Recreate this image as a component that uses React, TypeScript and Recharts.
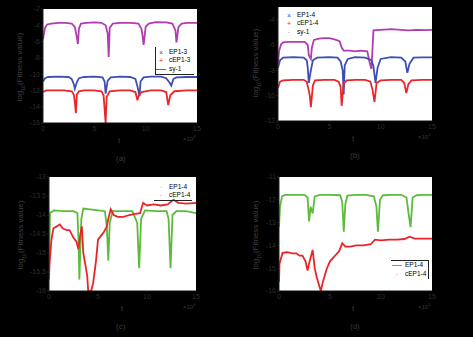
import React from 'react'
import { LineChart, Line, XAxis, YAxis, CartesianGrid } from 'recharts'

type Pt = [number, number]

// (a)
const A_SY1: Pt[] = [[0,-5.7],[0.2,-4.3],[0.4,-3.9],[0.8,-3.8],[1.5,-3.7],[2.2,-3.7],[2.8,-3.8],[3.1,-4.2],[3.3,-5.5],[3.4,-6.3],[3.5,-4.4],[3.7,-3.8],[4.2,-3.7],[5,-3.65],[5.7,-3.7],[6.1,-4.0],[6.3,-5.0],[6.4,-7.9],[6.5,-4.3],[6.8,-3.8],[7.5,-3.7],[8.5,-3.7],[9.3,-3.8],[9.6,-4.5],[9.7,-5.3],[9.8,-6.4],[10.0,-4.2],[10.3,-3.8],[11,-3.6],[12,-3.65],[12.6,-3.8],[12.9,-4.6],[13.0,-6.1],[13.2,-4.2],[13.5,-3.8],[14,-3.7],[15,-3.7]]
const A_EP: Pt[] = [[0,-10.9],[0.2,-10.5],[0.5,-10.35],[1.5,-10.3],[2.5,-10.35],[2.8,-10.6],[3.0,-11.2],[3.1,-11.8],[3.3,-11.0],[3.5,-10.5],[4,-10.35],[5,-10.3],[5.8,-10.4],[6.0,-10.9],[6.1,-12.4],[6.3,-10.8],[6.6,-10.4],[7.5,-10.3],[8.5,-10.35],[9.0,-10.6],[9.2,-11.5],[9.4,-12.7],[9.5,-10.9],[9.8,-10.4],[10.5,-10.3],[11.5,-10.3],[12.0,-10.5],[12.3,-11.0],[12.5,-11.4],[12.7,-10.6],[13,-10.4],[14,-10.35],[15,-10.35]]
const A_CEP: Pt[] = [[0,-12.2],[0.3,-12.0],[1,-12.0],[2,-12.0],[2.8,-12.1],[3.0,-12.5],[3.1,-13.4],[3.2,-14.8],[3.3,-12.5],[3.5,-12.1],[4,-12.0],[5,-12.0],[5.7,-12.1],[5.9,-12.6],[6.1,-16],[6.2,-12.8],[6.5,-12.1],[7.5,-12.0],[8.5,-12.0],[9.0,-12.2],[9.2,-13.2],[9.3,-12.7],[9.6,-12.2],[10.5,-12.0],[11.5,-12.0],[12.0,-12.2],[12.2,-13.8],[12.4,-12.6],[12.8,-12.1],[14,-12.0],[15,-12.0]]

// (b)
const B_SY1: Pt[] = [[0,-7.4],[0.1,-6.5],[0.3,-5.95],[0.5,-5.8],[1,-5.75],[1.5,-5.75],[2,-5.75],[2.6,-5.75],[2.9,-6.0],[3.0,-6.8],[3.2,-7.1],[3.3,-6.2],[3.5,-5.6],[4,-5.5],[4.5,-5.45],[5,-5.45],[5.5,-5.55],[6.0,-5.7],[6.2,-6.2],[6.4,-6.45],[7,-6.45],[7.5,-6.5],[8,-6.45],[8.7,-6.5],[8.9,-7.3],[9.1,-7.9],[9.3,-4.85],[10,-4.8],[11,-4.75],[12,-4.8],[12.7,-4.85],[13.5,-4.8],[14.3,-4.82],[15,-4.8]]
const B_EP: Pt[] = [[0,-7.8],[0.2,-7.2],[0.5,-7.0],[1.5,-6.95],[2.5,-7.0],[2.8,-7.2],[2.9,-7.8],[3.0,-9.0],[3.2,-8.0],[3.4,-7.2],[3.8,-7.0],[5,-6.95],[5.8,-7.0],[6.1,-7.3],[6.3,-8.0],[6.4,-9.9],[6.5,-7.6],[6.8,-7.1],[7.5,-6.95],[8.5,-7.0],[9.1,-7.2],[9.3,-7.7],[9.5,-9.0],[9.7,-7.8],[10,-7.1],[11,-6.95],[12,-7.0],[12.4,-7.3],[12.6,-8.2],[12.8,-7.5],[13.2,-7.0],[14,-6.97],[15,-6.97]]
const B_CEP: Pt[] = [[0,-9.4],[0.2,-8.9],[0.5,-8.8],[1.5,-8.75],[2.5,-8.75],[2.8,-8.9],[3.0,-9.6],[3.1,-10.0],[3.2,-10.9],[3.4,-9.2],[3.6,-8.8],[4.5,-8.75],[5.5,-8.75],[5.9,-8.9],[6.1,-9.3],[6.2,-10.8],[6.4,-9.0],[6.7,-8.8],[7.5,-8.75],[8.5,-8.75],[9.0,-8.9],[9.2,-9.5],[9.4,-10.5],[9.6,-9.0],[10,-8.8],[11,-8.75],[12,-8.75],[12.3,-9.0],[12.5,-9.8],[12.7,-9.1],[13,-8.8],[14,-8.75],[15,-8.75]]

// (c)
const C_EP: Pt[] = [[0,-15.5],[0.1,-13.95],[0.5,-13.88],[1.5,-13.9],[2.5,-13.9],[2.9,-13.95],[3.0,-14.6],[3.1,-15.7],[3.2,-14.9],[3.3,-14.1],[3.5,-13.83],[4.2,-13.85],[5,-13.88],[5.7,-13.9],[5.9,-14.3],[6.05,-15.2],[6.2,-14.2],[6.5,-13.9],[7.5,-13.9],[8.5,-13.9],[9.0,-14.2],[9.2,-15.4],[9.4,-14.1],[9.8,-13.88],[11,-13.9],[12,-13.9],[12.2,-14.1],[12.4,-15.4],[12.6,-14.0],[13,-13.9],[14,-13.9],[15,-13.95]]
const C_CEP: Pt[] = [[0,-15.7],[0.05,-15.3],[0.25,-14.65],[0.45,-14.35],[0.8,-14.3],[1.1,-14.25],[1.4,-14.35],[1.8,-14.4],[2.1,-14.4],[2.5,-14.6],[2.8,-14.7],[3.0,-14.9],[3.2,-14.5],[3.35,-14.3],[3.5,-15.0],[3.7,-15.3],[3.9,-15.6],[4.0,-16],[4.3,-16],[4.5,-15.8],[4.8,-15.2],[5.0,-14.65],[5.3,-14.55],[5.6,-14.45],[5.9,-14.3],[6.05,-14.1],[6.3,-13.85],[6.6,-14.0],[7,-14.05],[7.6,-14.05],[8.2,-14.0],[8.8,-13.97],[9.3,-13.95],[9.6,-13.68],[10,-13.75],[10.7,-13.72],[11.4,-13.75],[12.1,-13.72],[12.7,-13.6],[13.2,-13.68],[14,-13.7],[15,-13.68]]

// (d)
const D_EP: Pt[] = [[0,-13.2],[0.1,-12.3],[0.3,-11.85],[0.6,-11.78],[1.5,-11.78],[2.5,-11.78],[2.8,-11.9],[2.95,-12.95],[3.1,-12.3],[3.3,-12.6],[3.5,-11.85],[4,-11.78],[5,-11.78],[6.0,-11.8],[6.2,-12.1],[6.35,-13.4],[6.5,-12.2],[6.7,-11.82],[7.5,-11.78],[8.5,-11.78],[9.3,-11.85],[9.55,-12.3],[9.7,-13.4],[9.9,-12.0],[10.2,-11.8],[11,-11.78],[12,-11.78],[12.5,-11.9],[12.7,-12.6],[12.9,-13.2],[13.1,-11.9],[13.5,-11.8],[14,-11.78],[15,-11.78]]
const D_CEP: Pt[] = [[0,-15.6],[0.05,-14.8],[0.35,-14.33],[0.8,-14.3],[1.3,-14.35],[1.7,-14.35],[2.0,-14.45],[2.3,-14.45],[2.6,-14.7],[2.8,-15.1],[3.0,-14.7],[3.3,-14.2],[3.5,-15.0],[3.7,-15.4],[3.9,-15.7],[4.1,-16],[4.3,-15.6],[4.5,-15.3],[4.7,-15.0],[5.0,-14.7],[5.3,-14.55],[5.6,-14.4],[5.9,-14.25],[6.2,-13.9],[6.5,-14.05],[7,-14.05],[7.6,-14.0],[8.3,-14.0],[9.0,-13.95],[9.4,-13.75],[10,-13.78],[10.8,-13.75],[11.6,-13.75],[12.3,-13.72],[12.8,-13.62],[13.3,-13.7],[14,-13.7],[15,-13.7]]

const X_TICKS = [0, 5, 10, 15]
const A_Y_TICKS = [-2, -4, -6, -8, -10, -12, -14, -16]
const B_Y_TICKS = [-4, -6, -8, -10, -12]
const C_Y_TICKS = [-13, -13.5, -14, -14.5, -15, -15.5, -16]
const D_Y_TICKS = [-11, -12, -13, -14, -15, -16]

const MAGENTA = '#b23cb2'
const BLUE = '#3e4fb3'
const RED = '#e8262a'
const GREEN = '#5dbb3c'

const W = 473
const H = 337
const YW = 30
const XH = 20

const toRows = (pts: Pt[]) => pts.map(([t, v]) => ({ t, v }))

interface Series { data: Pt[]; color: string; width?: number }
interface PanelProps {
  rect: [number, number, number, number] // left, top, right, bottom
  yDomain: [number, number]
  yTicks: number[]
  series: Series[]
}

const font = 'Liberation Sans, Arial, sans-serif'
const tick = { fill: '#2e2e2e', fontSize: 7, fontFamily: font }

function Panel({ rect, yDomain, yTicks, series }: PanelProps) {
  const [l, t, r, b] = rect
  return (
    <div style={{ position: 'absolute', left: 0, top: 0 }}>
      <LineChart
        width={W}
        height={H}
        margin={{ top: t, left: l - YW, right: W - r, bottom: H - b - XH }}
      >
        <CartesianGrid fill="#ffffff" stroke="none" horizontal={false} vertical={false} />
        <XAxis
          type="number"
          dataKey="t"
          domain={[0, 15]}
          ticks={X_TICKS}
          allowDataOverflow
          height={XH}
          tick={tick}
          tickSize={2}
          tickMargin={1}
          stroke="#111"
        />
        <YAxis
          type="number"
          dataKey="v"
          domain={yDomain}
          ticks={yTicks}
          allowDataOverflow
          width={YW}
          tick={tick}
          tickSize={2}
          tickMargin={1}
          stroke="#222"
        />
        {series.map((s, i) => (
          <Line
            key={i}
            data={toRows(s.data)}
            dataKey="v"
            stroke={s.color}
            strokeWidth={s.width ?? 1.8}
            dot={false}
            isAnimationActive={false}
          />
        ))}
      </LineChart>
    </div>
  )
}

function Txt({ x, y, children, size = 8, color = '#3a3a3a' }: { x: number; y: number; children: React.ReactNode; size?: number; color?: string }) {
  return (
    <div style={{ position: 'absolute', left: x, top: y, fontSize: size, color, fontFamily: font, lineHeight: 1, whiteSpace: 'nowrap' }}>
      {children}
    </div>
  )
}

function YLabel({ cx, cy }: { cx: number; cy: number }) {
  return (
    <div style={{
      position: 'absolute', left: cx, top: cy, transform: 'translate(-50%,-50%) rotate(-90deg)',
      fontSize: 8, color: '#3e3e3e', fontFamily: font, whiteSpace: 'nowrap', lineHeight: 1,
    }}>
      log<sub style={{ fontSize: 5 }}>10</sub>(Fitness value)
    </div>
  )
}

function Pow({ x, y }: { x: number; y: number }) {
  return (
    <Txt x={x} y={y} size={6}>
      ×10<sup style={{ fontSize: 4 }}>4</sup>
    </Txt>
  )
}

const legendText = { fontSize: 6.5, color: '#000', fontFamily: font, lineHeight: 1, whiteSpace: 'nowrap' as const }

function LegendRow({ x, y, mark, label }: { x: number; y: number; mark: React.ReactNode; label: string }) {
  return (
    <div style={{ position: 'absolute', left: x, top: y, display: 'flex', alignItems: 'center', gap: 3, ...legendText }}>
      <span style={{ width: 10, display: 'inline-flex', justifyContent: 'center', alignItems: 'center' }}>{mark}</span>
      {label}
    </div>
  )
}

const lineMark = (c: string) => <span style={{ width: 10, height: 1.5, background: c, display: 'inline-block' }} />
const textMark = (c: string, s: string) => <span style={{ color: c, fontSize: 7 }}>{s}</span>

export default function App() {
  return (
    <div style={{ position: 'relative', width: W, height: H, background: '#000', overflow: 'hidden' }}>
      <style>{'body{margin:0;background:#000}'}</style>

      <Panel rect={[43, 9, 197, 123]} yDomain={[-16, -2]} yTicks={A_Y_TICKS}
        series={[{ data: A_SY1, color: MAGENTA }, { data: A_EP, color: BLUE }, { data: A_CEP, color: RED }]} />
      <Panel rect={[278, 7, 432, 121]} yDomain={[-12, -3]} yTicks={B_Y_TICKS}
        series={[{ data: B_SY1, color: MAGENTA }, { data: B_EP, color: BLUE }, { data: B_CEP, color: RED }]} />
      <Panel rect={[49, 177, 196, 291]} yDomain={[-16, -13]} yTicks={C_Y_TICKS}
        series={[{ data: C_EP, color: GREEN }, { data: C_CEP, color: RED }]} />
      <Panel rect={[279, 177, 432, 291]} yDomain={[-16, -11]} yTicks={D_Y_TICKS}
        series={[{ data: D_EP, color: GREEN }, { data: D_CEP, color: RED }]} />

      {/* legend (a) */}
      <div style={{ position: 'absolute', left: 155, top: 47, width: 38, height: 27, borderLeft: '1px solid #222', borderBottom: '1px solid #222' }} />
      <LegendRow x={156} y={49} mark={textMark(BLUE, '×')} label="EP1-3" />
      <LegendRow x={156} y={57} mark={textMark(RED, '+')} label="cEP1-3" />
      <LegendRow x={156} y={66} mark={lineMark(MAGENTA)} label="sy-1" />

      {/* legend (b) */}
      <LegendRow x={284} y={12} mark={textMark(BLUE, '×')} label="EP1-4" />
      <LegendRow x={284} y={20} mark={textMark(RED, '+')} label="cEP1-4" />
      <LegendRow x={284} y={29} mark={textMark(MAGENTA, '·')} label="sy-1" />

      {/* legend (c) */}
      <div style={{ position: 'absolute', left: 154, top: 200, width: 38, height: 0, borderTop: '1px solid #222' }} />
      <LegendRow x={156} y={184} mark={textMark(GREEN, '·')} label="EP1-4" />
      <LegendRow x={156} y={192} mark={textMark(RED, '·')} label="cEP1-4" />

      {/* legend (d) */}
      <div style={{ position: 'absolute', left: 391, top: 260, width: 37, height: 18, borderTop: '1px solid #222', borderRight: '1px solid #222' }} />
      <LegendRow x={392} y={262} mark={lineMark(GREEN)} label="EP1-4" />
      <LegendRow x={392} y={271} mark={textMark(RED, '·')} label="cEP1-4" />

      {/* axis labels */}
      <YLabel cx={21} cy={67} />
      <YLabel cx={257} cy={63} />
      <YLabel cx={22} cy={235} />
      <YLabel cx={257} cy={235} />

      <Txt x={118} y={137}>t</Txt>
      <Txt x={352} y={135}>t</Txt>
      <Txt x={121} y={305}>t</Txt>
      <Txt x={352} y={305}>t</Txt>

      <Pow x={183} y={135} />
      <Pow x={418} y={133} />
      <Pow x={183} y={303} />
      <Pow x={418} y={303} />

      <Txt x={116} y={155}>(a)</Txt>
      <Txt x={350} y={152}>(b)</Txt>
      <Txt x={116} y={323}>(c)</Txt>
      <Txt x={350} y={323}>(d)</Txt>
    </div>
  )
}
